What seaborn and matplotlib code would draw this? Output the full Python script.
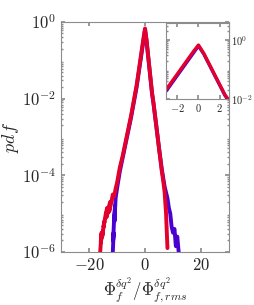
import numpy as np
import pandas as pd
import seaborn as sns
import matplotlib.pyplot as plt

# log10 of pdf
red_x = [-16, -15.5, -15.8, -15, -15.3, -14.5, -14.8, -14, -13.5, -13.8, -13, -12.5, -12.8,
         -12, -11.5, -11, -10.5, -10,
         -9, -8, -7, -6, -5, -4, -3, -2.5, -2, -1.5, -1, -0.5, 0, 0.5, 1, 1.5, 2,
         2.5, 3, 4, 5, 6, 6.5, 7, 7.5, 8]
red_log = [-6.0, -5.5, -5.75, -5.45, -5.6, -5.2, -5.35, -5.0, -4.85, -5.1, -4.9, -4.7, -4.95,
           -4.7, -4.5, -4.55, -4.35, -4.2,
           -3.8, -3.5, -3.15, -2.8, -2.45, -2.05, -1.65, -1.4, -1.15, -0.9, -0.65, -0.4, -0.17,
           -0.45, -0.8, -1.15, -1.5, -1.85, -2.1, -2.7, -3.3, -3.9, -4.15, -4.45, -5.0, -5.9]

blue_x = [-11.5, -11.2, -11.4, -11, -10.7, -10.9, -10.5, -10, -9, -8, -7, -6, -5, -4, -3,
          -2.5, -2, -1.5, -1, -0.5, 0, 0.5, 1, 1.5, 2, 2.5, 3, 4, 5, 6, 7, 8, 8.5, 9,
          9.5, 10, 10.5, 11, 11.5, 12]
blue_log = [-6.0, -5.5, -5.7, -5.1, -4.8, -5.2, -4.6, -4.35, -3.9, -3.55, -3.2, -2.85, -2.5,
            -2.1, -1.7, -1.45, -1.2, -0.95, -0.7, -0.45, -0.2, -0.47, -0.82, -1.17, -1.52,
            -1.87, -2.12, -2.7, -3.3, -3.85, -4.3, -4.6, -4.85, -5.0, -5.35, -5.5, -5.4,
            -5.85, -5.6, -6.0]

sns.set_theme(style="ticks")
plt.rcParams['font.family'] = ['DejaVu Serif']
plt.rcParams['mathtext.fontset'] = 'cm'

df_red = pd.DataFrame({'x': red_x, 'pdf': 10.0 ** np.array(red_log)})
df_blue = pd.DataFrame({'x': blue_x, 'pdf': 10.0 ** np.array(blue_log)})

RED = '#e3002c'
BLUE = '#4a00d0'
GREY = '#8c8c8c'


def style_axes(ax, size):
    for s in ax.spines.values():
        s.set_color(GREY)
        s.set_linewidth(0.8)
    ax.tick_params(which='both', direction='in', color=GREY, labelsize=size,
                   top=True, right=True)
    ax.tick_params(which='major', length=3)
    ax.tick_params(which='minor', length=1.5)


fig = plt.figure(figsize=(2.54, 3.05), dpi=100)
ax = fig.add_axes([0.240, 0.174, 0.662, 0.754])
sns.lineplot(data=df_blue, x='x', y='pdf', color=BLUE, lw=2.8, sort=False, estimator=None, ax=ax)
sns.lineplot(data=df_red, x='x', y='pdf', color=RED, lw=2.8, sort=False, estimator=None, ax=ax)
ax.set_yscale('log')
ax.set_xlim(-30, 30)
ax.set_ylim(1e-6, 1)
ax.set_xticks([-20, 0, 20])
ax.set_xticklabels(['$-20$', '$0$', '$20$'])
ax.set_yticks([1e-6, 1e-4, 1e-2, 1])
ax.set_yticklabels(['$10^{-6}$', '$10^{-4}$', '$10^{-2}$', '$10^{0}$'])
style_axes(ax, 12)
ax.set_xlabel(r'$\Phi_f^{\delta q^2}/\Phi_{f,rms}^{\delta q^2}$', fontsize=12, labelpad=1)
ax.set_ylabel('$pdf$', fontsize=13, labelpad=1)

axin = fig.add_axes([0.654, 0.675, 0.248, 0.250])
sns.lineplot(data=df_blue, x='x', y='pdf', color=BLUE, lw=2.4, sort=False, estimator=None, ax=axin)
sns.lineplot(data=df_red, x='x', y='pdf', color=RED, lw=2.4, sort=False, estimator=None, ax=axin)
axin.set_yscale('log')
axin.set_xlim(-3.06, 2.9)
axin.set_ylim(1e-2, 3.8)
axin.set_xticks([-2, 0, 2])
axin.set_xticklabels(['$-2$', '$0$', '$2$'])
axin.set_yticks([1e-2, 1])
axin.set_yticklabels(['$10^{-2}$', '$10^{0}$'])
style_axes(axin, 7.5)
axin.yaxis.tick_right()
axin.tick_params(which='both', left=True, right=True, labelleft=False, labelright=True)
axin.tick_params(axis='x', pad=2)
axin.tick_params(axis='y', pad=1.5)
axin.set_xlabel('')
axin.set_ylabel('')

fig.savefig('out.png', dpi=100)
